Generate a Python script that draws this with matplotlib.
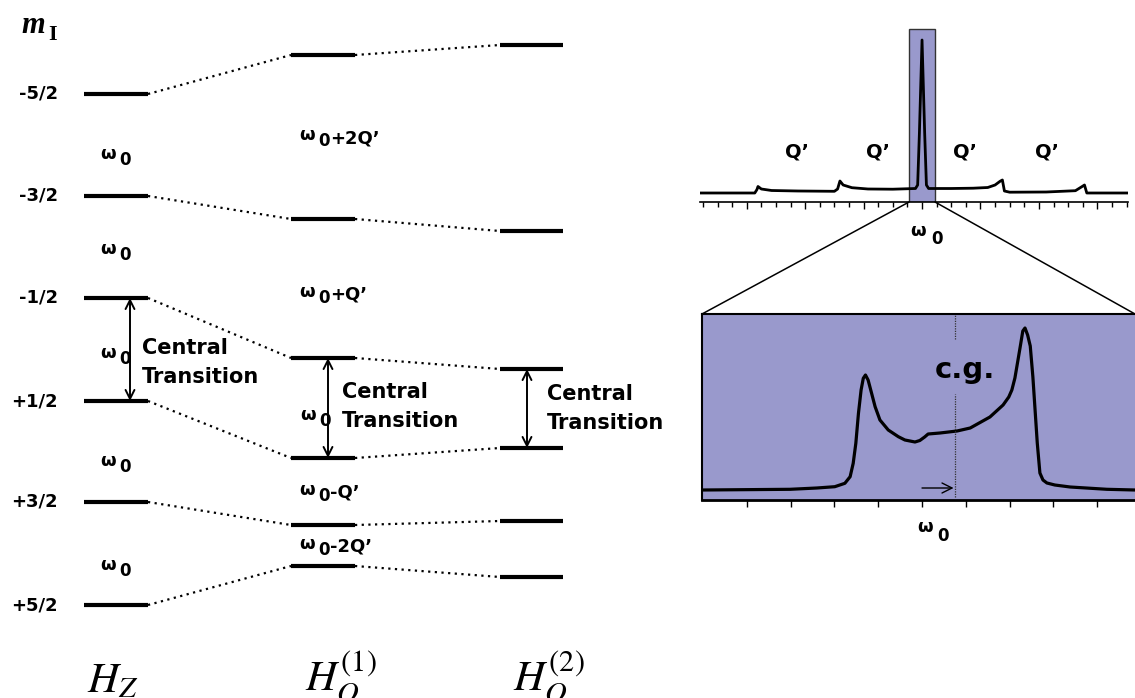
import matplotlib
matplotlib.use("Agg")
import matplotlib.pyplot as plt
from matplotlib.patches import Rectangle, ConnectionPatch

plt.rcParams['font.family'] = ['DejaVu Sans']
plt.rcParams['mathtext.fontset'] = 'stix'

W, H = 1135, 698

# energy levels (diagram units, downward = higher m_I)
m_labels = ['-5/2', '-3/2', '-1/2', '+1/2', '+3/2', '+5/2']
hz_levels = [94, 196, 298, 401, 502, 605]
hq1_levels = [55, 219, 358, 458, 525, 566]
hq2_levels = [45, 231, 369, 448, 521, 577]
hz_omega_y = [155, 250, 462, 566]
hq1_texts = ['+2Q\u2019', '+Q\u2019', '-Q\u2019', '-2Q\u2019']
hq1_text_y = [140, 297, 495, 549]

# full spectrum (freq in tick units, omega0 = 0)
top_freq = [-15.2, -11.45, -11.3, -11.23, -11.0, -10.3, -8.5, -6.0, -5.78, -5.62,
            -5.4, -4.8, -3.7, -2.0, -0.45, -0.3, -0.18, 0.0, 0.18, 0.3, 0.45,
            2.0, 3.5, 4.5, 5.0, 5.34, 5.5, 5.64, 6.0, 8.5, 10.5, 10.94, 11.12,
            11.28, 14.1]
top_int = [0, 0, 3.5, 6.5, 4, 2.5, 2, 1.7, 4, 12,
           8, 5.3, 4, 3.8, 4.5, 8, 60, 153, 60, 8, 4.5,
           4.5, 4.8, 5.5, 8, 11.7, 13, 2, 0.8, 1, 2.3, 6.3, 8,
           0, 0]
q_label_x = [-8.56, -3.0, 2.95, 8.56]

# central transition, second order lineshape
ct_freq = [-5.0, -3.01, -2.40, -1.99, -1.76, -1.64, -1.57, -1.51, -1.45, -1.39,
           -1.34, -1.29, -1.23, -1.15, -1.07, -0.96, -0.77, -0.54, -0.39, -0.16,
           -0.05, 0.06, 0.14, 0.41, 0.80, 1.10, 1.55, 1.85, 1.98, 2.05,
           2.12, 2.19, 2.24, 2.30, 2.35, 2.41, 2.47, 2.53, 2.58, 2.63,
           2.69, 2.76, 2.85, 3.03, 3.38, 4.22, 4.86]
ct_int = [0, 0.7, 2, 3.3, 6.7, 13.3, 26.7, 46.7, 76.7, 100,
          111.7, 115, 110, 96.7, 83.3, 70, 60, 53.3, 50, 48,
          49.5, 53, 56, 57, 59, 62, 73, 85, 93, 100,
          112, 130, 143, 159, 162, 155, 144, 113, 80, 47,
          17, 10, 7, 5, 3, 0.7, 0]
cg = 0.75

fill = '#9999cc'

fig = plt.figure(figsize=(W / 100, H / 100), dpi=100)
ax = fig.add_axes([0, 0, 1, 1])
ax.set_xlim(0, W)
ax.set_ylim(H, 0)
ax.axis('off')


def rect(x0, y0, x1, y1):
    return [x0 / W, 1 - y1 / H, (x1 - x0) / W, (y1 - y0) / H]


def omega(x, y, rest='', size=13):
    ax.text(x, y, '\u03c9', ha='left', va='baseline', fontsize=size, fontweight='bold')
    ax.text(x + 19, y + 6, '0', ha='left', va='baseline', fontsize=size - 1, fontweight='bold')
    if rest:
        ax.text(x + 31, y + 3, rest, ha='left', va='baseline', fontsize=size, fontweight='bold')


cols = [(84, 148), (291, 355), (500, 563)]
for (x0, x1), lv in zip(cols, [hz_levels, hq1_levels, hq2_levels]):
    ax.hlines(lv, x0, x1, color='black', lw=3)

for a, b, (xa, xb) in [(hz_levels, hq1_levels, (148, 291)), (hq1_levels, hq2_levels, (355, 500))]:
    for ya, yb in zip(a, b):
        ax.plot([xa, xb], [ya, yb], color='black', lw=1.6, ls=(0, (1, 2)))

for lab, y in zip(m_labels, hz_levels):
    ax.text(58, y, lab, ha='right', va='center', fontsize=13, fontweight='bold')

ax.text(21, 33, 'm', fontfamily='Liberation Serif', fontstyle='italic',
        fontweight='bold', fontsize=22, va='baseline')
ax.text(48, 40, 'I', fontfamily='Liberation Serif', fontweight='bold',
        fontsize=16, va='baseline')

for y in hz_omega_y:
    omega(100, y + 4)

for t, y in zip(hq1_texts, hq1_text_y):
    omega(299, y, t)

# central transition arrows
for x, lv in [(130, hz_levels), (328, hq1_levels), (527, hq2_levels)]:
    ax.annotate('', xy=(x, lv[2]), xytext=(x, lv[3]),
                arrowprops=dict(arrowstyle='<->', lw=1.4, color='black',
                                shrinkA=0, shrinkB=0, mutation_scale=16))
omega(100, 358)
omega(300, 420)
for x, y in [(142, 348), (342, 392), (547, 394)]:
    ax.text(x, y, 'Central', ha='left', va='center', fontsize=15, fontweight='bold')
    ax.text(x, y + 29, 'Transition', ha='left', va='center', fontsize=15, fontweight='bold')

ax.text(87, 692, r'$H_Z$', fontsize=31, va='baseline')
ax.text(305, 692, r'$H_Q^{(1)}$', fontsize=31, va='baseline')
ax.text(513, 692, r'$H_Q^{(2)}$', fontsize=31, va='baseline')

# full spectrum
ax_top = fig.add_axes(rect(700, 18, 1128, 202))
ax_top.set_xlim(-15.2, 14.1)
ax_top.set_ylim(-9, 175)
ax_top.patch.set_visible(False)
for s in ['top', 'left', 'right']:
    ax_top.spines[s].set_visible(False)
ax_top.spines['bottom'].set_linewidth(1.2)
ax_top.set_yticks([])
ax_top.set_xticks(range(-12, 13, 4))
ax_top.set_xticks(range(-15, 15), minor=True)
ax_top.tick_params(axis='x', which='major', length=5, width=1, labelbottom=False)
ax_top.tick_params(axis='x', which='minor', length=3.5, width=1)
ax_top.add_patch(Rectangle((-0.89, -9), 1.78, 173, facecolor=fill,
                           edgecolor='#333333', lw=1, zorder=1))
ax_top.plot(top_freq, top_int, color='black', lw=2, zorder=3, solid_joinstyle='round')
for x in q_label_x:
    ax_top.text(x, 41, 'Q\u2019', ha='center', va='center', fontsize=14, fontweight='bold')

ax.text(910, 236, '\u03c9', ha='left', va='baseline', fontsize=13, fontweight='bold')
ax.text(931, 244, '0', ha='left', va='baseline', fontsize=12, fontweight='bold')

# zoomed central transition
ax_z = fig.add_axes(rect(702, 314, 1135, 500))
ax_z.set_xlim(-5.02, 4.86)
ax_z.set_ylim(-10, 176)
ax_z.set_facecolor(fill)
ax_z.spines['right'].set_visible(False)
ax_z.spines['bottom'].set_linewidth(2)
ax_z.spines['left'].set_linewidth(1.5)
ax_z.spines['top'].set_linewidth(1.5)
ax_z.set_yticks([])
ax_z.set_xticks(range(-4, 5))
ax_z.tick_params(axis='x', length=5, width=1, labelbottom=False)
ax_z.plot(ct_freq, ct_int, color='black', lw=2.3, solid_joinstyle='round')
ax_z.vlines([cg, cg], [-7, 151], [96, 176], color='#333333', lw=0.9, ls=(0, (1, 1)))
ax_z.text(0.98, 120, 'c.g.', ha='center', va='center', fontsize=21, fontweight='bold')
ax_z.annotate('', xy=(cg - 0.03, 2), xytext=(0, 2),
              arrowprops=dict(arrowstyle='->', lw=1, color='black',
                              shrinkA=0, shrinkB=0, mutation_scale=18))

ax.text(917, 532, '\u03c9', ha='left', va='baseline', fontsize=13, fontweight='bold')
ax.text(937, 541, '0', ha='left', va='baseline', fontsize=12, fontweight='bold')

for xa, xb in [(-0.89, -5.02), (0.89, 4.86)]:
    con = ConnectionPatch(xyA=(xa, -9), coordsA=ax_top.transData,
                          xyB=(xb, 176), coordsB=ax_z.transData,
                          color='black', lw=1.1)
    fig.add_artist(con)

fig.savefig('out.png', dpi=100)
